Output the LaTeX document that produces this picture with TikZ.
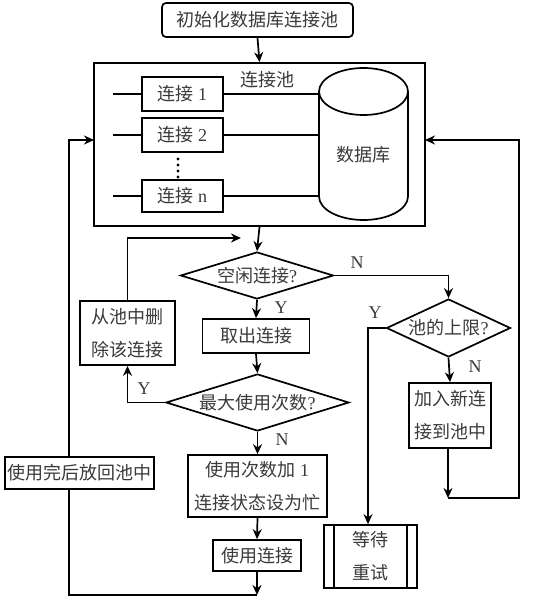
\documentclass[tikz,border=0pt]{standalone}
\usepackage{fontspec}
\setmainfont{Liberation Serif}
\newfontfamily\cjk{Noto Sans CJK SC}
\usetikzlibrary{shapes.geometric,arrows.meta}
\definecolor{txt}{HTML}{3A3A3A}
\begin{document}
\begin{tikzpicture}[x=1pt,y=1pt,line width=1.7pt,
  box/.style={draw, rectangle, inner sep=0pt, font=\cjk\fontsize{18}{33}\selectfont, text=txt, align=center},
  dia/.style={draw, diamond, inner sep=0pt},
  ctext/.style={font=\cjk\fontsize{18}{21}\selectfont, text=txt},
  yn/.style={font=\rmfamily\fontsize{18}{20}\selectfont, text=txt},
  arr/.style={-{Stealth[length=10pt,width=9pt]}}
]
\fill[white] (0,0) rectangle (555,-601);
\useasboundingbox (0,0) rectangle (555,-601);

% top
\node[box, rounded corners=4pt, minimum width=191, minimum height=34] (init) at (257.5,-20) {初始化数据库连接池};
\node[box, minimum width=331, minimum height=163] (pool) at (259.5,-144.5) {};
\node[ctext] (poollab) at (267,-80) {连接池};

% connections
\node[box, minimum width=81, minimum height=34] (c1) at (182.5,-94) {连接 {\rmfamily 1}};
\node[box, minimum width=81, minimum height=34] (c2) at (182.5,-135) {连接 {\rmfamily 2}};
\node[box, minimum width=81, minimum height=32] (cn) at (182.5,-196) {连接 {\rmfamily n}};
\foreach \yy in {159,165,171,177} \fill (178,-\yy) circle (1.6);

% cylinder
\draw (319,-91.5) -- (319,-196.5) arc[start angle=180,end angle=360,x radius=44.5,y radius=23.5] -- (408,-91.5);
\draw (363.5,-91.5) ellipse[x radius=44.5,y radius=23.5];
\node[ctext] (db) at (363.5,-155) {数据库};
\coordinate (dbL) at (319,-150);
\coordinate (lft) at (112.5,-150);
\draw (lft |- c1.west) -- (c1.west); \draw (c1.east) -- (dbL |- c1.east);
\draw (lft |- c2.west) -- (c2.west); \draw (c2.east) -- (dbL |- c2.east);
\draw (lft |- cn.west) -- (cn.west); \draw (cn.east) -- (dbL |- cn.east);

% flow
\node[dia, minimum width=153, minimum height=47, label={[ctext]center:{空闲连接{\rmfamily ?}}}] (d1) at (257,-275.5) {};
\node[box, minimum width=107, minimum height=34] (take) at (256,-336) {取出连接};
\node[dia, minimum width=183, minimum height=57, label={[ctext]center:{最大使用次数{\rmfamily ?}}}] (d3) at (257.5,-402.5) {};
\node[box, minimum width=95, minimum height=64] (del) at (127.5,-333) {从池中删\\除该连接};
\node[box, minimum width=139, minimum height=62] (inc) at (257.5,-486) {使用次数加 {\rmfamily 1}\\连接状态设为忙};
\node[box, minimum width=88, minimum height=31] (use) at (257,-555.5) {使用连接};
\node[box, minimum width=149, minimum height=32] (back) at (79.5,-473) {使用完后放回池中};
\node[dia, minimum width=124, minimum height=58, label={[ctext]center:{池的上限{\rmfamily ?}}}] (d2) at (448.5,-328) {};
\node[box, minimum width=82, minimum height=65] (add) at (450,-415.5) {加入新连\\接到池中};
\node[box, minimum width=93, minimum height=63] (wait) at (370.5,-556.5) {等待\\重试};
\draw ([xshift=10.5pt]wait.north west) -- ([xshift=10.5pt]wait.south west);
\draw ([xshift=-11pt]wait.north east) -- ([xshift=-11pt]wait.south east);

% connectors
\draw[arr] (init.south) -- (pool.north);
\draw[arr] (pool.south) -- (d1.north);
\coordinate (loopend) at (241,-238);
\draw[arr] (del.north) |- (loopend);
\draw[arr] (d1.east) -| (d2.north);
\draw[arr] (d1.south) -- (take.north);
\draw[arr] (take.south) -- (d3.north);
\draw[arr] (d3.west) -| (del.south);
\draw[arr] (d3.south) -- (inc.north);
\draw[arr] (inc.south) -- (use.north);
\coordinate (bot) at (257,-595);
\coordinate (bl) at (69,-595);
\coordinate (poolL) at (94,-140);
\coordinate (poolR) at (425,-140);
\draw[arr] (use.south) -- (bot);
\draw (bot) -- (bl) -- (bl |- back.south);
\draw[arr] (bl |- back.north) |- (poolL);
\draw[arr] (d2.south) -- (add.north);
\coordinate (wjoin) at (368,-328);
\draw[arr] (d2.west) -- (wjoin) -- (wjoin |- wait.north);
\coordinate (addbot) at (448,-498);
\coordinate (br) at (519,-498);
\draw[arr] (add.south -| addbot) -- (addbot);
\draw[arr] (addbot) -- (br) |- (poolR);

% labels
\node[yn] (n1) at (357,-263) {N};
\node[yn] (y1) at (281,-308) {Y};
\node[yn] (y3) at (144,-389) {Y};
\node[yn] (n3) at (282,-440) {N};
\node[yn] (y2) at (375,-313) {Y};
\node[yn] (n2) at (475,-367) {N};
\end{tikzpicture}
\end{document}
